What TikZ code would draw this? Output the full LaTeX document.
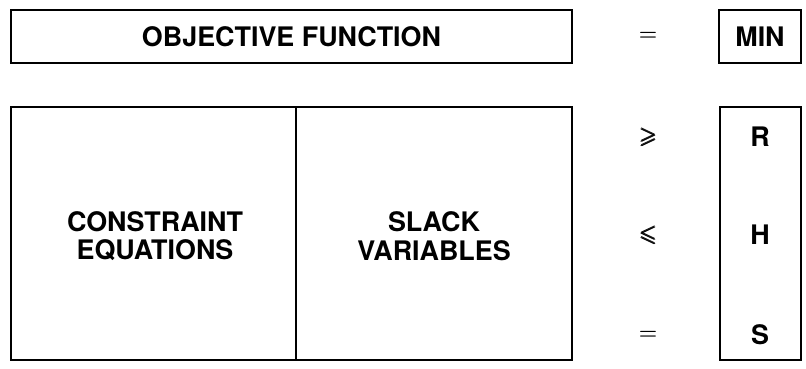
\documentclass[tikz,border=0pt]{standalone}
\usepackage{amssymb}
\usepackage{bm}
\usepackage{fontspec}
\setmainfont{TeX Gyre Heros}
\usetikzlibrary{positioning}

\tikzset{
    box/.style={draw, line width=1.3pt, inner sep=0pt, align=center,
        font=\fontsize{15.3}{16.2}\selectfont\bfseries},
    label/.style={align=center, font=\fontsize{15.3}{16.2}\selectfont\bfseries},
    rel/.style={font=\fontsize{13}{15}\selectfont},
    rhs/.style={font=\fontsize{15.3}{16.2}\selectfont\bfseries}
}

\begin{document}
\begin{tikzpicture}
            \useasboundingbox (0, 0) rectangle (16.12, 7.36);

            % top row
            \node[box, minimum width=11.22cm, minimum height=1.06cm] (obj) at (5.83, 6.63) {OBJECTIVE FUNCTION};
            \node[box, minimum width=1.64cm, minimum height=1.06cm] (min) at (15.2, 6.63) {MIN};
            \node[rel] (releq) at (12.96, 6.63) {$\bm{=}$};

            % constraint block
            \node[box, minimum width=11.22cm, minimum height=5.06cm] (block) at (5.83, 2.69) {};
            \coordinate (divtop) at (5.92, 5.22);
            \coordinate (divbot) at (5.92, 0.16);
            \draw[line width=0.9pt] (divtop) -- (divbot);
            \node[label] (cons) at (3.1, 2.64) {CONSTRAINT\\EQUATIONS};
            \node[label] (slack) at (8.68, 2.64) {SLACK\\VARIABLES};

            % right hand side
            \node[box, minimum width=1.62cm, minimum height=5.06cm] (rhsbox) at (15.21, 2.69) {};
            \node[rhs] (r) at (15.2, 4.62) {R};
            \node[rhs] (h) at (15.2, 2.66) {H};
            \node[rhs] (s) at (15.2, 0.66) {S};

            \node[rel] (relge) at (12.96, 4.62) {$\bm{\geqslant}$};
            \node[rel] (relle) at (12.96, 2.66) {$\bm{\leqslant}$};
            \node[rel] (releqs) at (12.96, 0.66) {$\bm{=}$};
        \end{tikzpicture}
\end{document}
